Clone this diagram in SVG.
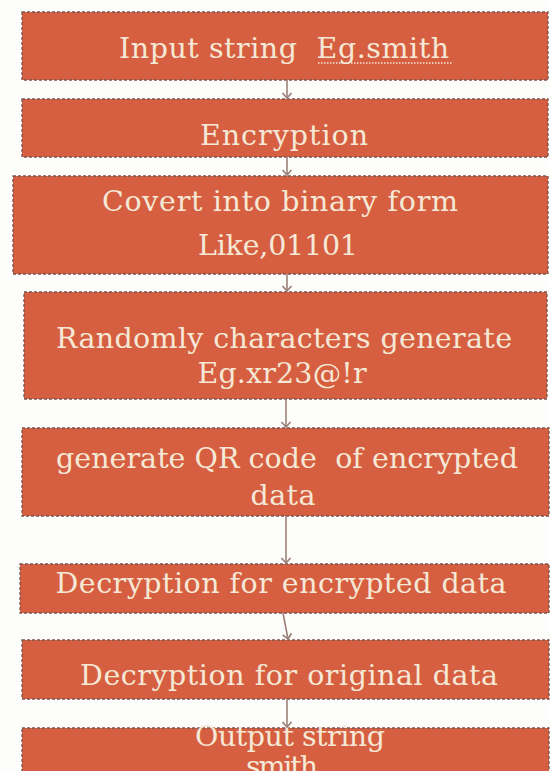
<svg xmlns="http://www.w3.org/2000/svg" width="550" height="771" viewBox="0 0 550 771">
<defs>
<style>
.box{fill:#D55F40;stroke:#7a5550;stroke-width:1.3;stroke-dasharray:3 2}
.t{font-family:"DejaVu Serif","Liberation Serif",serif;font-size:28.5px;fill:#F6E8D6;text-anchor:middle;white-space:pre}
.c{stroke:#9c807a;stroke-width:1.6;fill:none}
</style>
<marker id="ah" viewBox="0 0 12 12" refX="11" refY="6" markerWidth="12" markerHeight="12" markerUnits="userSpaceOnUse" orient="auto">
<path d="M6 1.5 L11 6 L6 10.5" fill="none" stroke="#9c807a" stroke-width="1.7"/>
</marker>
</defs>
<rect width="550" height="771" fill="#FDFDFB"/>
<g id="n1">
<rect class="box" x="22" y="12" width="526" height="68"/>
<text class="t" x="284" y="58" textLength="330">Input string  Eg.smith</text>
<path d="M318 63 L452 63" stroke="#F6E8D6" stroke-width="1.5" stroke-dasharray="1.5 1.5"/>
</g>
<g id="n2">
<rect class="box" x="22" y="99" width="526" height="58"/>
<text class="t" x="284" y="145" textLength="168">Encryption</text>
</g>
<g id="n3">
<rect class="box" x="13" y="176" width="535" height="98"/>
<text class="t" x="280" y="211" textLength="356">Covert into binary form</text>
<text class="t" x="278" y="255" textLength="160">Like,01101</text>
</g>
<g id="n4">
<rect class="box" x="24" y="292" width="523" height="107"/>
<text class="t" x="284" y="348" textLength="456">Randomly characters generate</text>
<text class="t" x="282" y="383" textLength="169">Eg.xr23@!r</text>
</g>
<g id="n5">
<rect class="box" x="22" y="428" width="527" height="88"/>
<text class="t" x="287" y="468" textLength="462">generate QR code  of encrypted</text>
<text class="t" x="283" y="505" textLength="65">data</text>
</g>
<g id="n6">
<rect class="box" x="20" y="564" width="529" height="49"/>
<text class="t" x="281" y="593" textLength="451">Decryption for encrypted data</text>
</g>
<g id="n7">
<rect class="box" x="22" y="640" width="527" height="59"/>
<text class="t" x="289" y="685" textLength="418">Decryption for original data</text>
</g>
<g id="n8">
<rect class="box" x="22" y="728" width="527" height="60"/>
<text class="t" x="290" y="746" textLength="190">Output string</text>
<text class="t" x="282" y="776" textLength="72">smith</text>
</g>
<g id="connectors">
<line class="c" x1="287" y1="80" x2="287" y2="98" marker-end="url(#ah)"/>
<line class="c" x1="287" y1="157" x2="287" y2="175" marker-end="url(#ah)"/>
<line class="c" x1="287" y1="274" x2="287" y2="291" marker-end="url(#ah)"/>
<line class="c" x1="286" y1="399" x2="286" y2="427" marker-end="url(#ah)"/>
<line class="c" x1="286" y1="516" x2="286" y2="563" marker-end="url(#ah)"/>
<line class="c" x1="283" y1="613" x2="288" y2="639" marker-end="url(#ah)"/>
<line class="c" x1="287" y1="699" x2="287" y2="727" marker-end="url(#ah)"/>
</g>
</svg>
